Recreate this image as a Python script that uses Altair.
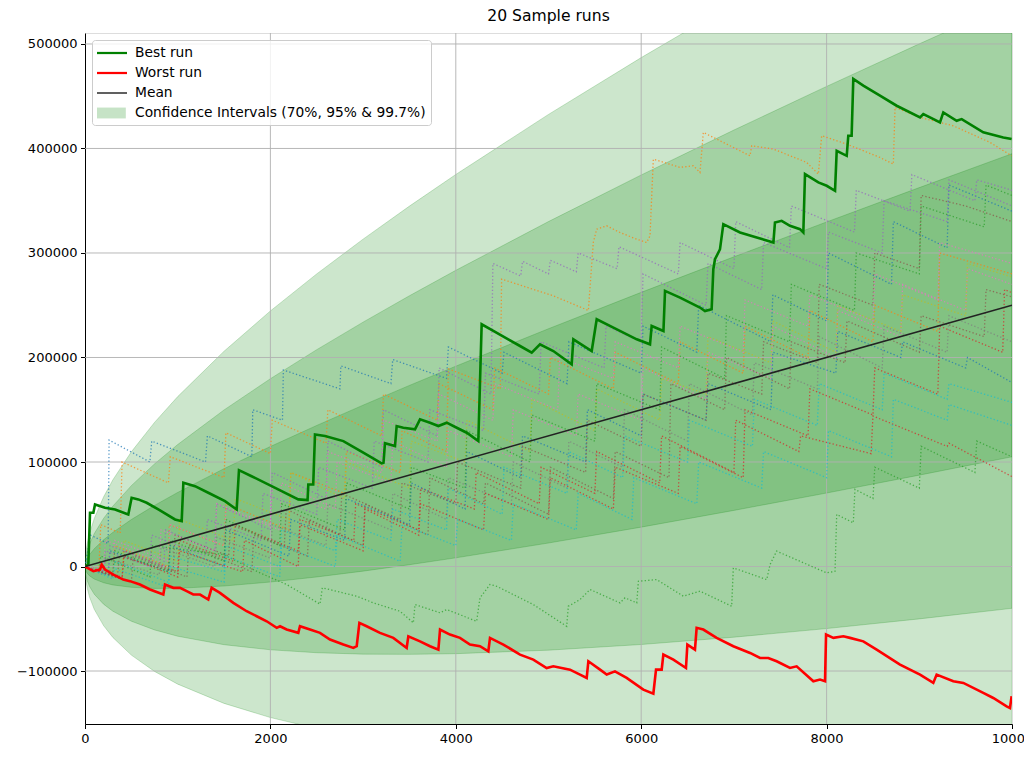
import altair as alt
import pandas as pd

TITLE = "20 Sample runs"
FONT = "DejaVu Sans"

# ---------------- axes ----------------
X_DOMAIN = [0, 10000]
Y_DOMAIN = [-150700, 510500]
X_TICKS = [0, 2000, 4000, 6000, 8000, 10000]
Y_TICKS = [-100000, 0, 100000, 200000, 300000, 400000, 500000]
GRID_X = [2000, 4000, 6000, 8000]
GRID_Y = [-100000, 0, 100000, 200000, 300000, 400000, 500000]

# ---------------- mean + confidence bands ----------------
MEAN_X = [0, 10000]
MEAN_Y = [0, 250000]
BAND_X = [0, 5, 10, 25, 50, 100, 200, 300, 500, 750, 1000, 1500, 2000, 2500, 3000,
          3500, 4000, 5000, 6000, 7000, 8000, 9000, 10000]
BAND_MEAN = [0, 125, 250, 625, 1250, 2500, 5000, 7500, 12500, 18750, 25000, 37500, 50000,
             62500, 75000, 87500, 100000, 125000, 150000, 175000, 200000, 225000, 250000]
BAND_SD = [0, 3242, 4585, 7250, 10253, 14500, 20506, 25115, 32423, 39711, 45853, 56159, 64846,
           72500, 79420, 85784, 91706, 102530, 112317, 121316, 129692, 137560, 145000]
BAND_K = [3, 2, 1]

# ---------------- best / worst runs ----------------
BEST = [(0, 0), (36, 1900), (54, 51400), (90, 51400), (108, 59400), (216, 56200), (324, 54600),
        (467, 49800), (503, 65800), (575, 64200), (665, 61000), (791, 54600), (971, 45000),
        (1043, 43400), (1061, 80200), (1187, 76900), (1330, 70600), (1510, 62500), (1636, 54600),
        (1661, 92200), (1797, 86400), (2013, 76900), (2301, 64200), (2401, 63500), (2409, 78500),
        (2462, 78500), (2481, 126400), (2589, 124800), (2787, 120000), (3002, 108900),
        (3200, 98700), (3220, 99300), (3236, 118000), (3344, 115200), (3362, 134400),
        (3434, 132800), (3560, 131200), (3614, 140800), (3722, 137600), (3812, 134400),
        (3902, 137600), (4010, 132800), (4118, 128000), (4243, 120000), (4261, 176000),
        (4279, 231800), (4405, 225400), (4566, 217400), (4693, 211000), (4819, 204700),
        (4908, 212600), (5052, 206200), (5250, 193500), (5268, 217400), (5466, 206200),
        (5520, 236600), (5700, 228600), (5952, 217400), (6095, 212600), (6113, 230200),
        (6240, 225400), (6257, 263700), (6419, 257300), (6634, 247800), (6688, 244500),
        (6760, 246200), (6778, 284500), (6796, 294000), (6850, 303600), (6886, 327600),
        (7066, 319600), (7246, 314800), (7426, 310000), (7443, 329200), (7515, 330800),
        (7605, 326000), (7713, 322800), (7749, 319600), (7767, 375500), (7911, 367500),
        (8001, 364300), (8091, 359500), (8109, 397800), (8217, 393000), (8234, 412200),
        (8270, 412200), (8288, 466500), (8396, 460100), (8576, 450500), (8756, 440900),
        (9008, 429700), (9043, 432900), (9115, 429700), (9223, 424900), (9259, 434500),
        (9403, 426500), (9457, 428100), (9690, 415400), (9906, 410600), (9996, 409000)]

WORST = [(0, 0), (90, -4500), (162, -2900), (180, 1900), (216, -2900), (306, -7700), (413, -12500),
         (485, -14000), (593, -17200), (701, -22000), (845, -26800), (863, -17200), (953, -20400),
         (1025, -20400), (1097, -23600), (1168, -26800), (1241, -26800), (1330, -31600),
         (1366, -20400), (1456, -25200), (1600, -34800), (1744, -42800), (1852, -47600),
         (1960, -52400), (2068, -58700), (2104, -57200), (2175, -60300), (2301, -63500),
         (2319, -57200), (2427, -60300), (2535, -63500), (2643, -69900), (2787, -74700),
         (2895, -77900), (2931, -76300), (2960, -53900), (3038, -57200), (3182, -63500),
         (3326, -68300), (3470, -77900), (3488, -66800), (3614, -71600), (3722, -76300),
         (3812, -79500), (3830, -60300), (3937, -65100), (4045, -68300), (4153, -74700),
         (4261, -76300), (4351, -81100), (4369, -68300), (4513, -74700), (4693, -84300),
         (4836, -89100), (4980, -97100), (5052, -95500), (5232, -98700), (5340, -103400),
         (5412, -106600), (5430, -90700), (5556, -98700), (5628, -103400), (5717, -100300),
         (5843, -106600), (6023, -117800), (6131, -121600), (6160, -98700), (6221, -98700),
         (6239, -84300), (6347, -89100), (6483, -97100), (6498, -74700), (6580, -79500),
         (6598, -58700), (6670, -60300), (6814, -68300), (6994, -76300), (7174, -82700),
         (7282, -87500), (7371, -87500), (7461, -90700), (7605, -97100), (7677, -95500),
         (7857, -109800), (7929, -108200), (7983, -109800), (7994, -65100), (8073, -68300),
         (8181, -66800), (8252, -68300), (8396, -71600), (8540, -79500), (8792, -93900),
         (9008, -103400), (9151, -111400), (9187, -103400), (9367, -109800), (9475, -111400),
         (9690, -121000), (9798, -125800), (9942, -133800), (9978, -135400), (9996, -124200)]

# ---------------- the other 18 sample runs (dotted) ----------------
RUN_A = [(0, 0), (60, 30000), (250, 22000), (260, 121000), (700, 100000), (720, 120000),
         (1300, 100000), (1320, 125000), (1800, 105000), (1810, 150000), (2130, 140000),
         (2140, 188000), (2750, 170000), (2760, 192000), (3300, 175000), (3320, 198000),
         (3900, 180000), (3920, 210000), (4500, 185000), (4520, 205000), (5200, 175000),
         (5220, 215000), (6000, 185000), (6020, 230000), (6600, 205000), (6620, 250000),
         (7400, 215000), (7420, 260000), (8000, 235000), (8020, 300000), (8700, 270000),
         (8720, 330000), (9300, 305000), (9320, 365000), (10000, 340000)]
RUN_B = [(0, 0), (300, -10000), (320, 20000), (900, 0), (910, 40000), (1500, 20000),
         (1520, 60000), (2200, 35000), (2220, 90000), (2800, 70000), (2820, 110000),
         (3400, 90000), (3420, 130000), (3900, 110000), (3920, 189000), (4480, 170000),
         (4494, 275000), (5052, 259000), (5430, 245000), (5483, 310000), (5520, 322800),
         (5628, 326000), (5771, 319600), (5952, 313200), (6059, 310000), (6095, 316400),
         (6131, 389800), (6419, 381900), (6563, 383500), (6634, 377100), (6670, 415400),
         (6886, 405800), (7174, 393000), (7192, 402600), (7426, 399400), (7785, 386700),
         (7911, 375500), (7947, 412200), (8217, 404200), (8576, 391400), (8720, 385000),
         (8738, 439300), (9008, 429700), (9367, 421700), (9763, 405800), (9996, 393000)]
RUN_C = [(0, 0), (150, -5000), (170, 10000), (700, -10000), (720, 20000), (1492, 11500),
         (1672, 3500), (1888, -6100), (2175, -17200), (2535, -36000), (2560, -20400),
         (2931, -28400), (3111, -34800), (3398, -42800), (3542, -53900), (3560, -36400),
         (3830, -44300), (3902, -41200), (4225, -52400), (4261, -30000), (4369, -17200),
         (4441, -18900), (4836, -36400), (5196, -57200), (5214, -38000), (5340, -31600),
         (5448, -22000), (5771, -34800), (5825, -30000), (5952, -34800), (5970, -14100),
         (6167, -12500), (6455, -28400), (6634, -23600), (6976, -38000), (6994, -1300),
         (7354, -12500), (7390, 1900), (7461, 14700), (8001, -6100), (8091, -4500),
         (8109, 49800), (8288, 41800), (8306, 73800), (8500, 65000), (8520, 95000),
         (9000, 75000), (9020, 115000), (9600, 90000), (9620, 120000), (10000, 105000)]
RUN_D = [(0, 0), (400, -10000), (420, 15000), (1000, -5000), (1020, 25000), (1600, 5000),
         (1620, 40000), (2300, 15000), (2320, 45000), (2900, 25000), (2920, 60000),
         (3600, 35000), (3620, 75000), (4200, 55000), (4220, 90000), (4900, 60000),
         (4920, 95000), (5500, 70000), (5520, 110000), (6200, 80000), (6220, 125000),
         (7000, 90000), (7020, 140000), (7700, 110000), (7720, 125000), (8480, 108000),
         (8500, 144000), (9300, 115000), (9320, 118000), (10000, 86000)]
RUN_E = [(0, 0), (200, -5000), (220, 15000), (700, 0), (720, 30000), (1300, 10000),
         (1320, 45000), (1900, 25000), (1920, 70000), (2500, 50000), (2520, 95000),
         (3100, 75000), (3120, 120000), (3700, 100000), (3720, 150000), (4300, 130000),
         (4320, 185000), (4900, 165000), (4920, 215000), (5600, 190000), (5620, 230000),
         (6000, 215000), (6020, 280000), (6700, 250000), (6720, 290000), (7300, 265000),
         (7320, 310000), (8000, 285000), (8020, 320000), (8600, 300000), (8620, 350000),
         (9300, 330000), (9320, 370000), (10000, 345000)]
RUN_F = [(0, 0), (500, -15000), (520, 10000), (1100, -10000), (1120, 20000), (1800, -5000),
         (1820, 30000), (2400, 10000), (2420, 45000), (3000, 20000), (3020, 60000),
         (3700, 30000), (3720, 85000), (4300, 60000), (4320, 80000), (5000, 50000),
         (5020, 95000), (5700, 65000), (5720, 110000), (6300, 85000), (6320, 175000),
         (6900, 150000), (6920, 200000), (7600, 170000), (7620, 215000), (8200, 195000),
         (8220, 235000), (9000, 205000), (9020, 240000), (9700, 220000), (9720, 265000),
         (10000, 258000)]
RUN_G = [(0, 0), (300, -5000), (320, 25000), (900, 5000), (920, 40000), (1500, 20000),
         (1520, 55000), (2100, 35000), (2120, 80000), (2700, 55000), (2720, 100000),
         (3300, 80000), (3320, 120000), (3900, 95000), (3920, 130000), (4600, 105000),
         (4620, 150000), (5300, 125000), (5320, 165000), (6000, 140000), (6020, 190000),
         (6700, 160000), (6720, 205000), (7400, 180000), (7420, 230000), (8100, 200000),
         (8120, 245000), (8800, 220000), (8820, 270000), (9500, 245000), (9520, 285000),
         (10000, 270000)]
RUN_H = [(0, 0), (200, -8000), (220, 8000), (800, -8000), (820, 18000), (1400, 0),
         (1420, 28000), (2000, 8000), (2020, 40000), (2600, 20000), (2620, 60000),
         (3300, 35000), (3320, 70000), (3900, 45000), (3920, 85000), (4600, 60000),
         (4620, 100000), (5200, 75000), (5220, 120000), (5800, 95000), (5820, 150000),
         (6500, 120000), (6520, 175000), (7200, 145000), (7220, 195000), (7900, 170000),
         (7920, 220000), (8600, 190000), (8620, 230000), (9300, 205000), (9320, 240000),
         (10000, 215000)]
RUN_I = [(0, 0), (400, -5000), (420, 25000), (1000, 5000), (1020, 45000), (1600, 25000),
         (1620, 65000), (2200, 45000), (2220, 90000), (2800, 65000), (2820, 100000),
         (3500, 75000), (3520, 120000), (4100, 100000), (4120, 140000), (4800, 110000),
         (4820, 160000), (5500, 130000), (5520, 170000), (6200, 140000), (6220, 180000),
         (6700, 165000), (6720, 220000), (7400, 195000), (7420, 235000), (8100, 205000),
         (8120, 250000), (8800, 225000), (8820, 260000), (9500, 240000), (9520, 290000),
         (10000, 277000)]
RUN_J = [(0, 0), (300, -10000), (320, 5000), (900, -15000), (920, 10000), (1500, -5000),
         (1520, 20000), (2100, 0), (2120, 35000), (2700, 15000), (2720, 45000),
         (3300, 25000), (3320, 55000), (3900, 35000), (3920, 75000), (4500, 50000),
         (4520, 95000), (5200, 70000), (5220, 110000), (5800, 85000), (5820, 125000),
         (6500, 100000), (6520, 140000), (7200, 115000), (7220, 160000), (7900, 135000),
         (7920, 175000), (8600, 150000), (8620, 185000), (9300, 160000), (9320, 175000),
         (10000, 157000)]
RUN_K = [(0, 0), (250, -8000), (270, 15000), (900, -5000), (920, 20000), (1500, 0),
         (1520, 35000), (2200, 10000), (2220, 45000), (2800, 25000), (2820, 65000),
         (3500, 40000), (3520, 80000), (4100, 55000), (4120, 110000), (4700, 85000),
         (4720, 125000), (5400, 100000), (5420, 150000), (6000, 125000), (6020, 165000),
         (6700, 140000), (6720, 175000), (7400, 150000), (7420, 205000), (8100, 185000),
         (8120, 225000), (8800, 200000), (8820, 215000), (9500, 190000), (9520, 200000),
         (10000, 176000)]
RUN_L = [(0, 0), (150, -3000), (170, 40000), (380, 32000), (400, 100000), (900, 80000),
         (920, 105000), (1500, 85000), (1520, 128000), (2000, 108000), (2020, 140000),
         (2600, 118000), (2620, 150000), (3200, 125000), (3220, 165000), (3800, 140000),
         (3820, 175000), (4400, 150000), (4420, 190000), (5000, 165000), (5020, 200000),
         (5700, 170000), (5720, 205000), (6400, 175000), (6420, 215000), (7100, 185000),
         (7120, 230000), (7800, 200000), (7820, 245000), (8500, 215000), (8520, 250000),
         (9200, 225000), (9220, 300000), (10000, 280000)]
RUN_M = [(0, 0), (300, -5000), (320, 15000), (900, -5000), (920, 25000), (1500, 5000),
         (1520, 45000), (2100, 20000), (2120, 60000), (2800, 35000), (2820, 80000),
         (3500, 55000), (3520, 95000), (4100, 75000), (4120, 130000), (4800, 100000),
         (4820, 145000), (5500, 120000), (5520, 175000), (6200, 150000), (6220, 210000),
         (6900, 180000), (6920, 240000), (7600, 215000), (7620, 270000), (8300, 245000),
         (8320, 300000), (9000, 280000), (9020, 345000), (9700, 325000), (9720, 365000),
         (10000, 355000)]
RUN_N = [(0, 0), (400, -12000), (420, 10000), (1000, -10000), (1020, 15000), (1700, -5000),
         (1720, 25000), (2300, 0), (2320, 40000), (3000, 15000), (3020, 55000),
         (3600, 30000), (3620, 60000), (4300, 35000), (4320, 70000), (5000, 45000),
         (5020, 85000), (5700, 55000), (5720, 95000), (6400, 70000), (6420, 115000),
         (7100, 85000), (7120, 150000), (7800, 125000), (7820, 170000), (8500, 145000),
         (8520, 190000), (9200, 165000), (9220, 230000), (9900, 205000), (9920, 265000),
         (10000, 262000)]
RUN_O = [(0, 0), (250, -5000), (270, 20000), (850, 0), (870, 35000), (1400, 15000),
         (1420, 60000), (2000, 35000), (2020, 90000), (2600, 65000), (2620, 120000),
         (3200, 95000), (3220, 150000), (3800, 125000), (3820, 190000), (4380, 165000),
         (4400, 290000), (4700, 278000), (4720, 292000), (5000, 280000), (5020, 293000),
         (5300, 282000), (5320, 300000), (5740, 285000), (5760, 306000), (6400, 280000),
         (6420, 310000), (7000, 285000), (7020, 330000), (7600, 305000), (7620, 345000),
         (8300, 320000), (8320, 360000), (8900, 340000), (8920, 375000), (9600, 350000),
         (9620, 370000), (10000, 360000)]
RUN_P = [(0, 0), (350, -10000), (370, 10000), (950, -5000), (970, 30000), (1550, 10000),
         (1570, 40000), (2150, 20000), (2170, 55000), (2750, 30000), (2770, 70000),
         (3400, 45000), (3420, 80000), (4000, 60000), (4020, 100000), (4700, 75000),
         (4720, 115000), (5400, 90000), (5420, 140000), (6000, 115000), (6020, 165000),
         (6700, 140000), (6720, 185000), (7300, 165000), (7320, 215000), (7900, 195000),
         (7920, 270000), (8500, 250000), (8520, 300000), (9000, 285000), (9020, 355000),
         (9500, 345000), (10000, 330000)]
RUN_Q = [(0, 0), (200, -3000), (220, 25000), (800, 5000), (820, 35000), (1400, 15000),
         (1420, 60000), (2000, 40000), (2020, 75000), (2600, 55000), (2620, 110000),
         (3200, 90000), (3220, 140000), (3800, 120000), (3820, 165000), (4400, 140000),
         (4420, 175000), (5100, 150000), (5120, 200000), (5700, 180000), (5720, 215000),
         (6400, 190000), (6420, 230000), (7100, 205000), (7120, 255000), (7800, 230000),
         (7820, 260000), (8500, 235000), (8520, 280000), (9200, 255000), (9220, 310000),
         (10000, 290000)]
RUN_R = [(0, 0), (300, -12000), (320, -2000), (900, -20000), (920, 0), (1500, -15000),
         (1520, 10000), (2100, -10000), (2120, 20000), (2700, 0), (2720, 30000),
         (3400, 5000), (3420, 40000), (4000, 20000), (4020, 45000), (4600, 25000),
         (4620, 60000), (5300, 35000), (5320, 70000), (5900, 45000), (5920, 85000),
         (6600, 60000), (6620, 100000), (7300, 75000), (7320, 110000), (8000, 85000),
         (8020, 130000), (8700, 105000), (8720, 160000), (9300, 140000), (9320, 155000),
         (10000, 135000)]

RUNS = [RUN_A, RUN_B, RUN_C, RUN_D, RUN_E, RUN_F, RUN_G, RUN_H, RUN_I, RUN_J,
        RUN_K, RUN_L, RUN_M, RUN_N, RUN_O, RUN_P, RUN_Q, RUN_R]
RUN_NAMES = ["run %02d" % (i + 1) for i in range(len(RUNS))]
RUN_COLORS = ["#1f77b4", "#ff7f0e", "#2ca02c", "#d62728", "#9467bd", "#8c564b", "#e377c2",
              "#7f7f7f", "#bcbd22", "#17becf", "#1f77b4", "#ff7f0e", "#2ca02c", "#d62728",
              "#9467bd", "#8c564b", "#e377c2", "#17becf"]

# ---------------- legend ----------------
LEGEND_LABELS = ["Best run", "Worst run", "Mean", "Confidence Intervals (70%, 95% & 99.7%)"]
LEGEND_COLORS = ["#008000", "#ff0000", "#222222", "#c6e3c6"]
LEGEND_SHAPES = ["M-1,-0.14H2.75V0.14H-1Z", "M-1,-0.14H2.75V0.14H-1Z",
                 "M-1,-0.09H2.75V0.09H-1Z", "M-1,-0.68H2.6V0.68H-1Z"]

# ---------------- tables ----------------
band_tables = []
for k in BAND_K:
    band_tables.append(pd.DataFrame({
        "x": BAND_X,
        "hi": [m + k * s for m, s in zip(BAND_MEAN, BAND_SD)],
        "lo": [m - k * s for m, s in zip(BAND_MEAN, BAND_SD)],
    }))

run_rows = []
for name, run in zip(RUN_NAMES, RUNS):
    for i, (rx, ry) in enumerate(run):
        run_rows.append({"run": name, "i": i, "x": rx, "y": ry})
runs_df = pd.DataFrame(run_rows)

best_df = pd.DataFrame([{"i": i, "x": a, "y": b} for i, (a, b) in enumerate(BEST)])
worst_df = pd.DataFrame([{"i": i, "x": a, "y": b} for i, (a, b) in enumerate(WORST)])
mean_df = pd.DataFrame({"x": MEAN_X, "y": MEAN_Y})
legend_df = pd.DataFrame({"label": LEGEND_LABELS, "x": [0] * 4, "y": [0] * 4})

# ---------------- scales / axes ----------------
xscale = alt.Scale(domain=X_DOMAIN, nice=False, zero=False)
yscale = alt.Scale(domain=Y_DOMAIN, nice=False, zero=False)
common_axis = dict(title=None, grid=False, format="d", labelFont=FONT, labelFontSize=13,
                   labelColor="black", tickColor="black", tickSize=4.5, tickWidth=1,
                   domainColor="black", domainWidth=1, labelPadding=3.5)
xaxis = alt.Axis(values=X_TICKS, labelFlush=False, **common_axis)
yaxis = alt.Axis(values=Y_TICKS, **common_axis)

X = alt.X("x:Q", scale=xscale, axis=xaxis)
Y = alt.Y("y:Q", scale=yscale, axis=yaxis)

band_layers = []
for tbl in band_tables:
    band_layers.append(
        alt.Chart(tbl).mark_area(fill="green", fillOpacity=0.2, stroke="green",
                                 strokeOpacity=0.2, strokeWidth=1, clip=True)
        .encode(x=X, y=alt.Y("hi:Q", scale=yscale, axis=yaxis), y2=alt.Y2("lo:Q"))
    )

grid_x = alt.Chart(pd.DataFrame({"x": GRID_X})).mark_rule(
    color="#b0b0b0", strokeWidth=0.9).encode(x=X)
grid_y = alt.Chart(pd.DataFrame({"y": GRID_Y})).mark_rule(
    color="#b0b0b0", strokeWidth=0.9).encode(y=Y)

runs_layer = alt.Chart(runs_df).mark_line(
    strokeWidth=1.3, strokeDash=[1.3, 2.2], opacity=0.75, clip=True
).encode(
    x=X, y=Y,
    color=alt.Color("run:N", scale=alt.Scale(domain=RUN_NAMES, range=RUN_COLORS), legend=None),
    order="i:Q",
)

best_layer = alt.Chart(best_df).mark_line(color="#008000", strokeWidth=2.6, clip=True).encode(
    x=X, y=Y, order="i:Q")
worst_layer = alt.Chart(worst_df).mark_line(color="#ff0000", strokeWidth=2.6, clip=True).encode(
    x=X, y=Y, order="i:Q")
mean_layer = alt.Chart(mean_df).mark_line(color="#222222", strokeWidth=1.6, clip=True).encode(
    x=X, y=Y)

legend_props = dict(title=None, orient="top-left", offset=7, padding=5,
                    fillColor="rgba(255,255,255,0.8)", strokeColor="#cccccc", cornerRadius=3,
                    labelFont=FONT, labelFontSize=13.8, labelColor="black", labelLimit=500,
                    symbolSize=256, symbolStrokeWidth=0, symbolOpacity=1,
                    labelOffset=22, rowPadding=5.0)
legend_layer = alt.Chart(legend_df).transform_filter("false").mark_point(
    filled=True, opacity=1
).encode(
    x=X, y=Y,
    fill=alt.Fill("label:N", scale=alt.Scale(domain=LEGEND_LABELS, range=LEGEND_COLORS),
                  legend=alt.Legend(**legend_props)),
    shape=alt.Shape("label:N", scale=alt.Scale(domain=LEGEND_LABELS, range=LEGEND_SHAPES),
                    legend=alt.Legend(**legend_props)),
)

chart = alt.layer(
    *band_layers, grid_x, grid_y, runs_layer, best_layer, worst_layer, mean_layer, legend_layer
).resolve_scale(color="independent").properties(
    width=927, height=691,
    title=alt.TitleParams(TITLE, font=FONT, fontSize=15.6, fontWeight="normal", color="black",
                          offset=8, anchor="middle"),
    autosize=alt.AutoSizeParams(type="none"),
    padding={"left": 85, "top": 33, "right": 12, "bottom": 34},
).configure_view(stroke="black", strokeWidth=1).configure(background="white")

chart.save("out.html", embed_options={"renderer": "svg", "actions": False})
